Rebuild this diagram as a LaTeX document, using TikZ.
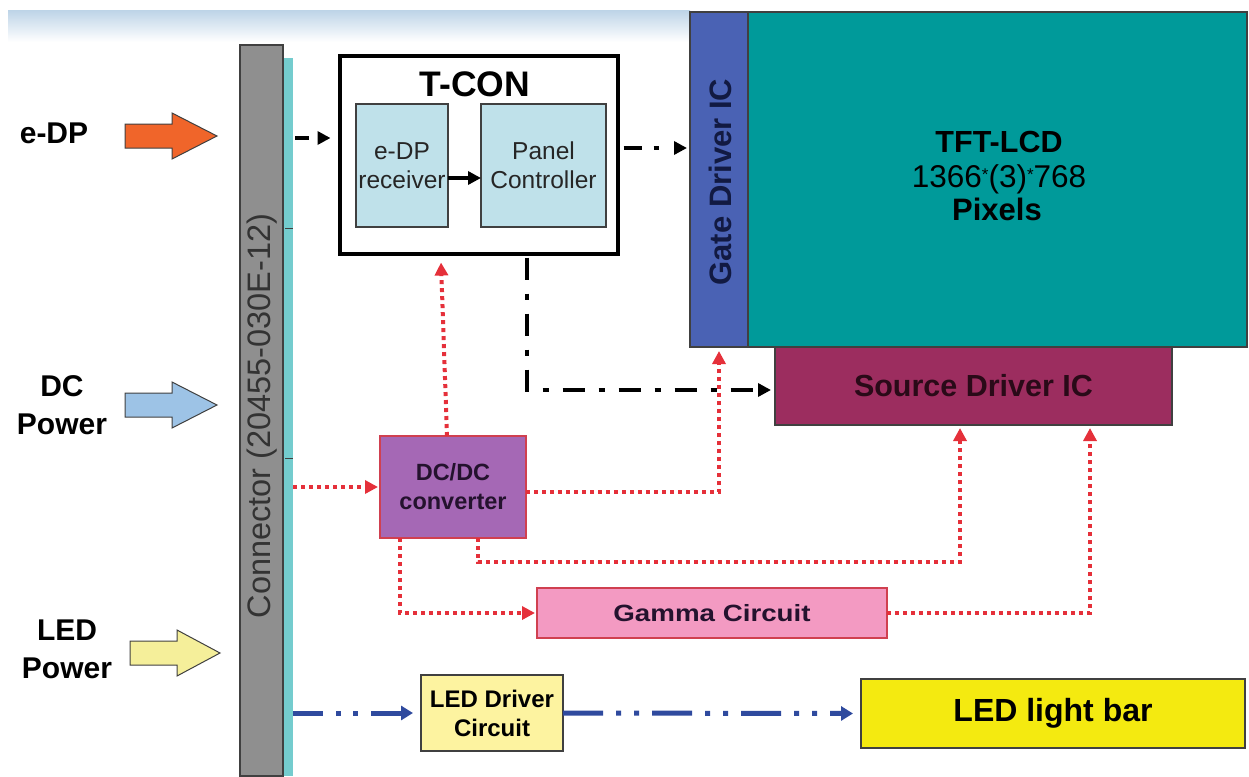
\documentclass[tikz,border=0pt]{standalone}
\usepackage{fontspec}
\setmainfont{Liberation Sans}
\usetikzlibrary{arrows.meta,calc}
\definecolor{bandblue}{HTML}{BFD5E8}
\definecolor{orangeA}{HTML}{F0652A}
\definecolor{blueA}{HTML}{9DC3E6}
\definecolor{yellowA}{HTML}{F5EF9A}
\definecolor{conngray}{HTML}{8F8F8F}
\definecolor{stripcy}{HTML}{74CCCE}
\definecolor{rxfill}{HTML}{BFE1EA}
\definecolor{gatefill}{HTML}{4A62B4}
\definecolor{tftfill}{HTML}{009A9A}
\definecolor{srcfill}{HTML}{9C2D5F}
\definecolor{dcfill}{HTML}{A568B5}
\definecolor{gammafill}{HTML}{F39AC2}
\definecolor{redborder}{HTML}{D04050}
\definecolor{leddfill}{HTML}{FDF3A0}
\definecolor{barfill}{HTML}{F4EA10}
\definecolor{redline}{HTML}{E5303A}
\definecolor{blueline}{HTML}{2F4A9E}
\definecolor{edgegray}{HTML}{404040}
\definecolor{srctext}{HTML}{2A0A18}
\definecolor{gatetext}{HTML}{121A42}
\definecolor{dctext}{HTML}{24122E}
\newcommand{\fs}[2]{\fontsize{#1}{#2}\selectfont}
\tikzset{
  blk/.style={draw=edgegray, line width=1.5pt, inner sep=0pt, outer sep=0pt},
  txt/.style={inner sep=0pt, outer sep=0pt},
  redpath/.style={draw=redline, line width=4pt, dash pattern=on 4pt off 4pt,
     -{Triangle[length=13pt,width=13pt]}},
  blackdash/.style={draw=black, line width=4pt, -{Triangle[length=13pt,width=13pt]}},
  bluepath/.style={draw=blueline, line width=5pt,
     dash pattern=on 30pt off 13pt on 5pt off 12pt on 5pt off 13pt,
     -{Triangle[length=12pt,width=14pt]}},
  fat/.style={draw=edgegray, line width=1pt},
  lbl/.style={font=\fs{30}{38}\bfseries, align=center, inner sep=0pt}
}
\begin{document}
\begin{tikzpicture}[x=1pt,y=-1pt]
\useasboundingbox (0,0) rectangle (1249,776);
% top band
\shade[top color=bandblue, bottom color=white] (8,11) rectangle (690,42);

% connector and strip
\node[blk, fill=stripcy, draw=none, minimum width=10pt, minimum height=718pt] (strip) at (288,417) {};
\node[blk, fill=conngray, minimum width=43pt, minimum height=731pt] (conn) at (261.5,410.5) {};
\node[txt, rotate=90, font=\fs{32.5}{36}, text=black!80] (conntxt) at (262,416) {Connector (20455-030E-12)};
\draw[edgegray, line width=1pt] (285,228) -- (293,228) (285,458) -- (293,458);

% input labels and fat arrows
\node[lbl] (edp) at (54,133) {e-DP};
\node[lbl] (dcp) at (62,405) {DC\\Power};
\node[lbl] (ledp) at (67,649.5) {LED\\Power};
\filldraw[fat, fill=orangeA] (125,124) -- (172,124) -- (172,113) -- (217,136) -- (172,159) -- (172,148) -- (125,148) -- cycle;
\filldraw[fat, fill=blueA] (125,393) -- (172,393) -- (172,382) -- (217,405) -- (172,428) -- (172,417) -- (125,417) -- cycle;
\filldraw[fat, fill=yellowA] (130,641) -- (177,641) -- (177,630) -- (220,653) -- (177,676) -- (177,665) -- (130,665) -- cycle;

% T-CON
\node[draw=black, line width=4pt, fill=white, minimum width=278pt, minimum height=197pt, inner sep=0pt] (tcon) at (478.5,155) {};
\node[txt, font=\fs{35.5}{40}\bfseries] (tcontxt) at (475,84.5) {T-CON};
\node[blk, fill=rxfill, minimum width=92pt, minimum height=123pt, align=center, font=\fs{24.5}{29}, text=black!85] (rx) at (402,165.5) {e-DP\\receiver};
\node[blk, fill=rxfill, minimum width=125pt, minimum height=123pt, align=center, font=\fs{24.5}{29}, text=black!85] (pc) at (543.5,165.5) {Panel\\Controller};

% panel
\node[blk, fill=tftfill, minimum width=499pt, minimum height=335pt] (tft) at (997.5,179.5) {};
\node[txt, anchor=base, font=\fs{30.5}{34}\bfseries] (tft1) at (999,152) {TFT-LCD};
\node[txt, anchor=base, font=\fs{31.5}{34}] (tft2) at (999,187) {1366{\fs{17}{18}\raisebox{7pt}{*}}(3){\fs{17}{18}\raisebox{7pt}{*}}768};
\node[txt, anchor=base, font=\fs{31}{34}\bfseries] (tft3) at (997,220) {Pixels};
\node[blk, fill=gatefill, minimum width=58pt, minimum height=335pt] (gate) at (719,179.5) {};
\node[txt, rotate=90, font=\fs{31}{34}\bfseries, text=gatetext] (gatetxt) at (720,182) {Gate Driver IC};
\node[blk, fill=srcfill, minimum width=397pt, minimum height=78pt, font=\fs{30.5}{34}\bfseries, text=srctext] (src) at (973.5,386) {Source Driver IC};

% lower blocks
\node[blk, draw=redborder, fill=dcfill, minimum width=146pt, minimum height=102pt, align=center, font=\fs{23.5}{29}\bfseries, text=dctext] (dcdc) at (453,487) {DC/DC\\converter};
\node[blk, draw=redborder, fill=gammafill, minimum width=350pt, minimum height=50pt, font=\fs{23.5}{28}\bfseries, text=dctext] (gamma) at (712,613) {\scalebox{1.18}[1]{Gamma Circuit}};
\node[blk, fill=leddfill, minimum width=142pt, minimum height=76pt, align=center, font=\fs{24}{29}\bfseries] (ledd) at (492,713) {LED Driver\\Circuit};
\node[blk, fill=barfill, minimum width=384pt, minimum height=69pt, font=\fs{32}{36}\bfseries] (ledbar) at (1053,713.5) {LED light bar};

% black connectors
\coordinate (c1) at (295,138);
\draw[blackdash, dash pattern=on 14pt off 30pt] (c1) -- ([xshift=-7pt]tcon.west |- c1);
\draw[blackdash] ([yshift=-12.5pt]rx.east) -- ([yshift=-12.5pt]pc.west);
\draw[blackdash, dash pattern=on 18pt off 12pt on 5pt off 30pt] ([yshift=7pt,xshift=4pt]tcon.east) -- ([xshift=-3pt,yshift=31.5pt]gate.west);
\draw[blackdash, dash pattern=on 22pt off 14pt on 6pt off 14pt] ([xshift=48.5pt,yshift=-2pt]tcon.south) |- ([xshift=-4pt,yshift=-4pt]src.west);

% red power connectors
\draw[redpath] (strip.east |- dcdc.west) -- ([xshift=-2pt]dcdc.west);
\draw[redpath] ([xshift=-6pt]dcdc.north) -- ([xshift=-37.5pt,yshift=-7pt]tcon.south);
\draw[redpath] ([yshift=-5pt]dcdc.east) -| ([yshift=-4pt]gate.south);
\draw[redpath] ([xshift=25pt]dcdc.south) |- (960,562) -- ([xshift=-13.5pt,yshift=-3pt]src.south);
\draw[redpath] ([xshift=-53pt]dcdc.south) |- ([xshift=-2pt]gamma.west);
\draw[redpath] (gamma.east) -| ([xshift=116.5pt,yshift=-3pt]src.south);

% LED connectors
\draw[bluepath] (strip.east |- ledd.west) -- ([xshift=-8pt]ledd.west);
\draw[bluepath, dash pattern=on 40pt off 13pt on 5pt off 13pt on 5pt off 13pt] (ledd.east) -- ([xshift=-8pt]ledbar.west);
\end{tikzpicture}
\end{document}
